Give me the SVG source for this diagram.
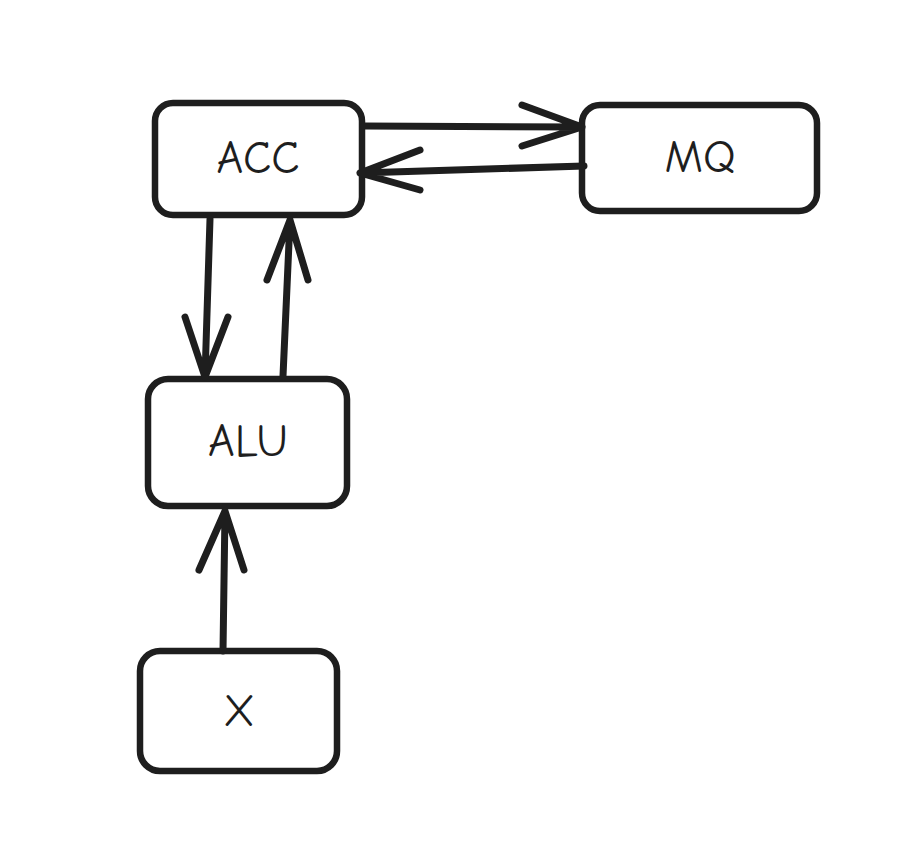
<svg xmlns="http://www.w3.org/2000/svg" width="915" height="851" viewBox="0 0 915 851">
  <style>
    .box { fill: #ffffff; stroke: #1e1e1e; stroke-width: 6.5; stroke-linejoin: round; }
    .edge { fill: none; stroke: #1e1e1e; stroke-width: 7; stroke-linecap: round; stroke-linejoin: round; }
    .label { font-family: "Comic Neue", "Liberation Sans", sans-serif; font-size: 46px; fill: #1e1e1e; text-anchor: middle; dominant-baseline: central; }
  </style>
  <rect width="915" height="851" fill="#ffffff"/>

  <g id="acc">
    <rect class="box" x="155" y="103" width="207" height="112" rx="18"/>
    <text class="label" x="258" y="158">ACC</text>
  </g>
  <g id="mq">
    <rect class="box" x="582" y="105" width="235" height="106" rx="18"/>
    <text class="label" x="700" y="157">MQ</text>
  </g>
  <g id="alu">
    <rect class="box" x="148" y="379" width="199" height="127" rx="20"/>
    <text class="label" x="248" y="441">ALU</text>
  </g>
  <g id="x">
    <rect class="box" x="140" y="651" width="197" height="120" rx="20"/>
    <text class="label" x="239" y="711">X</text>
  </g>

  <g id="connectors">
    <!-- ACC to MQ -->
    <path class="edge" d="M364 126 L582 127 M522 105 L582 127 L522 146"/>
    <!-- MQ to ACC -->
    <path class="edge" d="M584 166 L360 173 M420 150 L360 173 L420 190"/>
    <!-- ACC to ALU -->
    <path class="edge" d="M210 219 L205 377 M185 317 L205 377 L228 317"/>
    <!-- ALU to ACC -->
    <path class="edge" d="M283 376 L290 220 M267 280 L290 220 L308 280"/>
    <!-- X to ALU -->
    <path class="edge" d="M223 651 L225 511 M199 570 L225 511 L244 570"/>
  </g>
</svg>
